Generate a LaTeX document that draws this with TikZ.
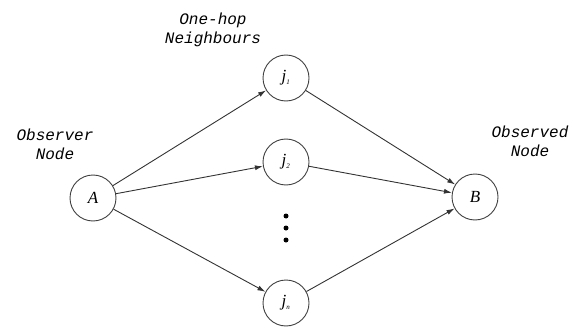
\documentclass[tikz,border=0pt]{standalone}
\usepackage{fontspec}
\setmainfont{Liberation Serif}
\newfontfamily\tagfont{Liberation Mono}
\usetikzlibrary{arrows.meta}

\begin{document}
\begin{tikzpicture}[x=1pt,y=-1pt,
  peer/.style={draw=black!75,line width=0.9pt,circle,minimum size=46pt,inner sep=0pt,font=\fontsize{17}{17}\selectfont\itshape},
  link/.style={draw=black!80,line width=0.9pt,-{Latex[length=8pt,width=5pt]}},
  tag/.style={font=\fontsize{16}{19}\selectfont\tagfont\itshape,align=center,text=black}]
\useasboundingbox (0,0) rectangle (576,329);
% nodes
\node[peer] (A) at (93,198) {A};
\node[peer] (B) at (475,197) {B};
\node[peer] (j1) at (286,78) {j\textsubscript{\scriptsize 1}};
\node[peer] (j2) at (286,162) {j\textsubscript{\scriptsize 2}};
\node[peer] (jn) at (286,303) {j\textsubscript{\scriptsize n}};
\foreach \y/\d in {216/d1,228/d2,240/d3}{\fill (286,\y) circle (2.5pt) coordinate (\d);}
% labels
\node[tag] (hop) at (213,30) {One-hop\\Neighbours};
\node[tag] (obs) at (55,144) {Observer\\Node};
\node[tag] (obd) at (530,141) {Observed\\Node};
% edges
\foreach \j in {j1,j2,jn}{
  \draw[link] (A) -- (\j);
  \draw[link] (\j) -- (B);
}
\end{tikzpicture}
\end{document}
